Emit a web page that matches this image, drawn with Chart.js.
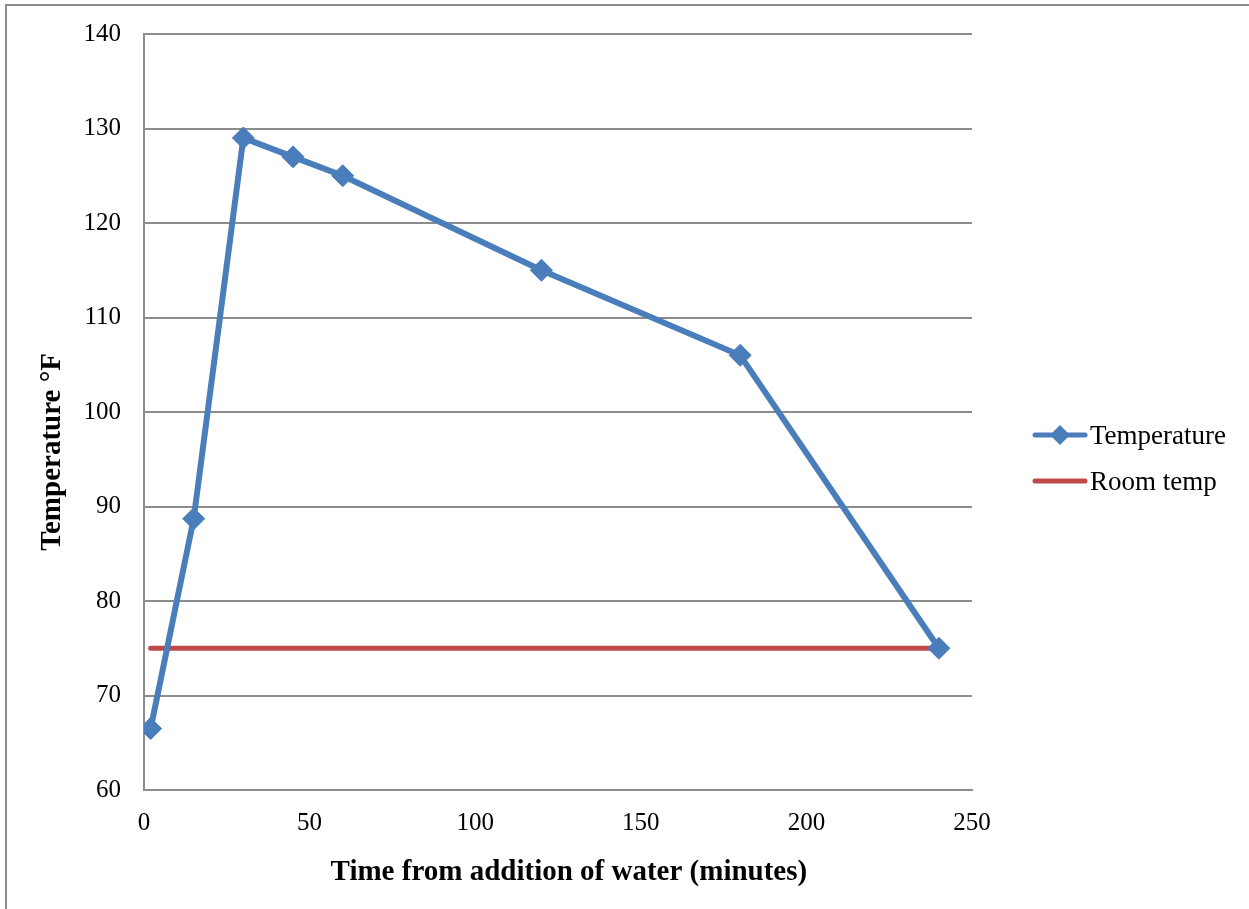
<!DOCTYPE html>
<html>
<head>
<meta charset="utf-8">
<script src="https://cdn.jsdelivr.net/npm/chart.js@4.4.1/dist/chart.umd.min.js"></script>
<style>
    html, body { margin: 0; padding: 0; background: #ffffff; overflow: hidden; }
    .frame {
        position: absolute;
        left: 5px;
        top: 4px;
        width: 1300px;
        height: 960px;
        border: 2px solid #8c8c8c;
        box-sizing: border-box;
    }
    .chart-wrap { position: absolute; left: 0; top: 0; width: 1249px; height: 909px; }
    #legend {
        position: absolute;
        left: 1032px;
        top: 420px;
        font-family: "Liberation Serif", "Times New Roman", serif;
        font-size: 27px;
        color: #000000;
    }
    #legend .item { display: flex; align-items: center; height: 30px; margin-bottom: 16px; }
    #legend canvas { margin-right: 2px; }
</style>
</head>
<body>
<div class="frame"></div>
<div class="chart-wrap">
    <canvas id="tempChart" width="1249" height="909"></canvas>
</div>
<div id="legend"></div>
<script>
    const minutes = [2, 15, 30, 45, 60, 120, 180, 240];
    const temperature = [66.5, 88.7, 129, 127, 125, 115, 106, 75];
    const roomTempMinutes = [2, 240];
    const roomTemp = [75, 75];
    const yTicks = [60, 70, 80, 90, 100, 110, 120, 130, 140];
    const xTicks = [0, 50, 100, 150, 200, 250];

    const colors = {
        temp: "#4a7ebb",
        room: "#be4b48",
        grid: "#8c8c8c",
    };

    const serif = "'Liberation Serif', 'Times New Roman', serif";

    function toPoints(xs, ys) {
        return xs.map((x, i) => ({ x, y: ys[i] }));
    }

    // legend swatch: line with an optional diamond marker in the middle
    function swatch(color, withMarker) {
        const c = document.createElement("canvas");
        c.width = 56;
        c.height = 22;
        const ctx = c.getContext("2d");
        ctx.strokeStyle = color;
        ctx.lineWidth = 5;
        ctx.lineCap = "round";
        ctx.beginPath();
        ctx.moveTo(3, 11);
        ctx.lineTo(53, 11);
        ctx.stroke();
        if (withMarker) {
            ctx.fillStyle = color;
            ctx.beginPath();
            ctx.moveTo(28, 1);
            ctx.lineTo(38, 11);
            ctx.lineTo(28, 21);
            ctx.lineTo(18, 11);
            ctx.closePath();
            ctx.fill();
        }
        return c;
    }

    const htmlLegend = {
        id: "htmlLegend",
        afterUpdate(chart) {
            const box = document.getElementById("legend");
            box.innerHTML = "";
            chart.data.datasets.forEach((ds) => {
                const item = document.createElement("div");
                item.className = "item";
                item.appendChild(swatch(ds.borderColor, ds.pointRadius > 0));
                const label = document.createElement("span");
                label.textContent = ds.label;
                item.appendChild(label);
                box.appendChild(item);
            });
        },
    };

    new Chart(document.getElementById("tempChart"), {
        type: "line",
        data: {
            datasets: [
                {
                    label: "Temperature",
                    data: toPoints(minutes, temperature),
                    borderColor: colors.temp,
                    backgroundColor: colors.temp,
                    borderWidth: 6,
                    pointStyle: "rectRot",
                    pointRadius: 11,
                    pointBorderWidth: 1,
                    pointBackgroundColor: colors.temp,
                    pointBorderColor: colors.temp,
                    tension: 0,
                    order: 0,
                },
                {
                    label: "Room temp",
                    data: toPoints(roomTempMinutes, roomTemp),
                    borderColor: colors.room,
                    backgroundColor: colors.room,
                    borderWidth: 5,
                    borderCapStyle: "round",
                    pointRadius: 0,
                    tension: 0,
                    order: 1,
                },
            ],
        },
        options: {
            responsive: false,
            animation: false,
            layout: { padding: { left: 0, top: 34, right: 277, bottom: 0 } },
            plugins: {
                legend: { display: false },
                tooltip: { enabled: false },
            },
            scales: {
                x: {
                    type: "linear",
                    min: 0,
                    max: 250,
                    afterBuildTicks(scale) {
                        scale.ticks = xTicks.map((value) => ({ value }));
                    },
                    afterFit(scale) {
                        scale.height = 119;
                    },
                    grid: { display: false, drawTicks: false },
                    border: { display: true, color: colors.grid, width: 2 },
                    ticks: {
                        color: "#000000",
                        padding: 18,
                        maxRotation: 0,
                        font: { family: serif, size: 25 },
                    },
                    title: {
                        display: true,
                        // leading spaces nudge the title a little right of the plot centre
                        text: "   Time from addition of water (minutes)",
                        color: "#000000",
                        font: { family: serif, size: 29, weight: "bold" },
                        padding: { top: 0, bottom: 19 },
                    },
                },
                y: {
                    type: "linear",
                    min: 60,
                    max: 140,
                    afterBuildTicks(scale) {
                        scale.ticks = yTicks.map((value) => ({ value }));
                    },
                    afterFit(scale) {
                        scale.width = 144;
                        // plot edges come from layout.padding, not label overhang
                        scale.paddingTop = 0;
                        scale.paddingBottom = 0;
                    },
                    grid: { color: colors.grid, lineWidth: 2, drawTicks: false },
                    border: { display: true, color: colors.grid, width: 2 },
                    ticks: {
                        color: "#000000",
                        padding: 23,
                        font: { family: serif, size: 25 },
                    },
                    title: {
                        display: true,
                        // trailing spaces centre the title on the whole canvas height
                        text: "Temperature °F           ",
                        color: "#000000",
                        font: { family: serif, size: 29, weight: "bold" },
                        padding: { top: 35, bottom: 0 },
                    },
                },
            },
        },
        plugins: [htmlLegend],
    });
</script>
</body>
</html>
